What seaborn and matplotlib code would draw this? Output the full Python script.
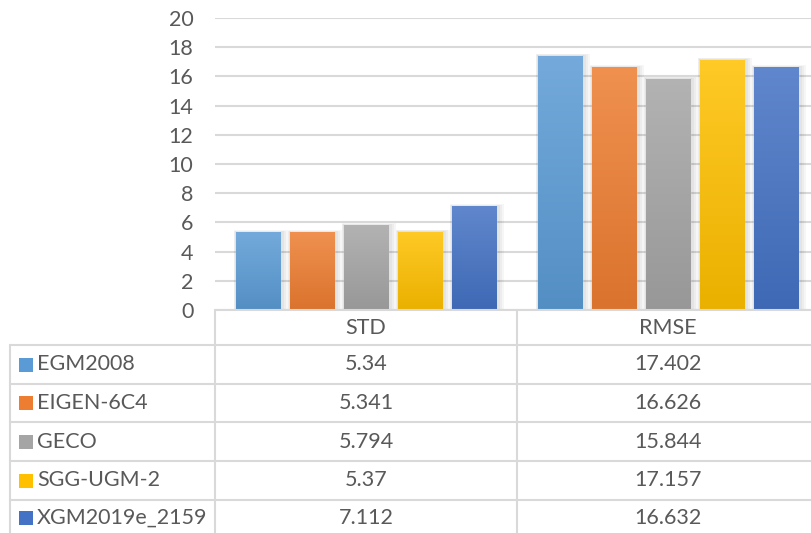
import numpy as np
import pandas as pd
import matplotlib
matplotlib.use("Agg")
import matplotlib.pyplot as plt
import seaborn as sns
from matplotlib.colors import to_rgb

models = ["EGM2008", "EIGEN-6C4", "GECO", "SGG-UGM-2", "XGM2019e_2159"]
metrics = ["STD", "RMSE"]
std_values = [5.34, 5.341, 5.794, 5.37, 7.112]
rmse_values = [17.402, 16.626, 15.844, 17.157, 16.632]
std_labels = ["5.34", "5.341", "5.794", "5.37", "7.112"]
rmse_labels = ["17.402", "16.626", "15.844", "17.157", "16.632"]
colors = ["#5B9BD5", "#ED7D31", "#A5A5A5", "#FFC000", "#4472C4"]

df = pd.DataFrame({
    "model": models * 2,
    "metric": ["STD"] * 5 + ["RMSE"] * 5,
    "value": std_values + rmse_values,
})

sns.set_style("white")
plt.rcParams["font.family"] = ["Lato", "DejaVu Sans"]
text_color = "#595959"
line_color = "#D9D9D9"
fs = 15.5

W, H = 811, 533
fig = plt.figure(figsize=(W / 100, H / 100), dpi=100)

# plot area in pixels: left 215, right 819 (clipped), top 18, bottom 310
ax = fig.add_axes([215 / W, (H - 310) / H, 604 / W, 292 / H])
sns.barplot(data=df, x="metric", y="value", hue="model", order=metrics,
            hue_order=models, palette=colors, width=0.894, gap=0.167,
            legend=False, saturation=1, ax=ax, zorder=3)

ax.set_xlim(-0.5, 1.5)
ax.set_ylim(0, 20)
ax.set_yticks(np.arange(0, 21, 2))
ax.set_xticks([])
ax.set_xlabel("")
ax.set_ylabel("")
ax.tick_params(axis="y", length=0, pad=15.5, labelsize=fs, labelcolor=text_color)
ax.grid(axis="y", color=line_color, linewidth=1.5, zorder=0)
ax.set_axisbelow(True)
for s in ax.spines.values():
    s.set_visible(False)


def mix(c, other, t):
    c = np.array(to_rgb(c))
    return tuple(c * (1 - t) + np.array(other) * t)


# gradient fill (lighter top, darker bottom) and soft shadow like the Excel style
for p in list(ax.patches):
    fc = p.get_facecolor()[:3]
    x0, w = p.get_x(), p.get_width()
    h = p.get_height()
    top = mix(fc, (1, 1, 1), 0.15)
    bot = mix(fc, (0, 0, 0), 0.08)
    grad = np.linspace(0, 1, 64)[:, None]
    img = np.array(top)[None, None, :] * (1 - grad[..., None]) + np.array(bot)[None, None, :] * grad[..., None]
    im = ax.imshow(img, extent=[x0, x0 + w, 0, h], aspect="auto", zorder=4, origin="upper")
    im.set_clip_path(p)
    for k in range(1, 5):
        dx = k * 1.2 / 604 * 2
        dy = k * 1.2 / 292 * 20
        ax.add_patch(plt.Rectangle((x0 - dx + 0.6 * dx, 0), w + 2 * dx, h + dy - 0.6 * dy,
                                   facecolor="black", alpha=0.035, linewidth=0, zorder=2))
ax.set_xlim(-0.5, 1.5)
ax.set_ylim(0, 20)

# data table below the plot, drawn in pixel coordinates
tab = fig.add_axes([0, 0, 1, 1], facecolor="none")
tab.set_xlim(0, W)
tab.set_ylim(H, 0)
tab.axis("off")

col_edges = [215, 517, 819]
row_edges = [310, 345, 384, 422, 461, 500, 539]
lw = 1.5
# header row
tab.plot([215, W], [310, 310], color=line_color, lw=lw)
for x in col_edges:
    tab.plot([x, x], [310, H], color=line_color, lw=lw)
tab.plot([10, 10], [345, H], color=line_color, lw=lw)
for y in row_edges[1:-1]:
    tab.plot([10, W], [y, y], color=line_color, lw=lw)

for j, m in enumerate(metrics):
    xc = (col_edges[j] + col_edges[j + 1]) / 2
    tab.text(xc, (row_edges[0] + row_edges[1]) / 2, m, ha="center", va="center",
             fontsize=fs, color=text_color)

for i, name in enumerate(models):
    yc = (row_edges[i + 1] + row_edges[i + 2]) / 2
    if i == len(models) - 1:
        yc = 518
    tab.add_patch(plt.Rectangle((19, yc - 7), 14, 14, facecolor=colors[i], linewidth=0))
    tab.text(37, yc, name, ha="left", va="center", fontsize=fs, color=text_color)
    tab.text(366, yc, std_labels[i], ha="center", va="center", fontsize=fs, color=text_color)
    tab.text(668, yc, rmse_labels[i], ha="center", va="center", fontsize=fs, color=text_color)

fig.savefig("out.png", dpi=100)
